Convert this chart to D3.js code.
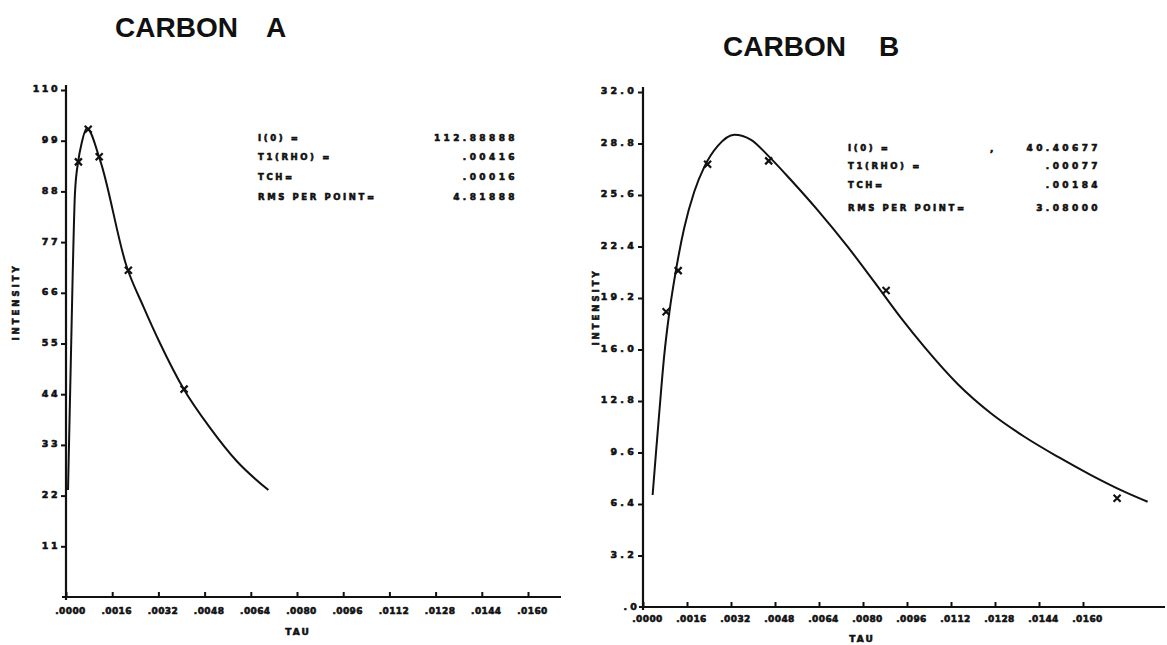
<!DOCTYPE html>
<html><head><meta charset="utf-8">
<script src="https://cdn.jsdelivr.net/npm/d3@7"></script>
<style>body{margin:0;background:#fff}svg{display:block}</style>
</head><body>
<svg id="chart" width="1167" height="645"></svg>
<script>
// ---------- data ----------
const tauTicks = [0, 0.0016, 0.0032, 0.0048, 0.0064, 0.0080, 0.0096, 0.0112, 0.0128, 0.0144, 0.0160];
const tauTickLabels = [".0000", ".0016", ".0032", ".0048", ".0064", ".0080", ".0096", ".0112", ".0128", ".0144", ".0160"];

const aYTicks = [11, 22, 33, 44, 55, 66, 77, 88, 99, 110];
const aYTickLabels = ["11", "22", "33", "44", "55", "66", "77", "88", "99", "110"];
const aCurveTau = [0.00007, 0.00023, 0.00031, 0.00043, 0.00054, 0.00072, 0.00118, 0.00210, 0.00268, 0.00326, 0.00406, 0.00499, 0.00591, 0.00701];
const aCurveI   = [23.2, 69.5, 87.6, 94.8, 98.4, 101.7, 94.8, 71.7, 63.0, 55.0, 45.3, 36.7, 29.5, 23.2];
const aPointTau = [0.00043, 0.00077, 0.00115, 0.00216, 0.00409];
const aPointI   = [94.4, 101.5, 95.5, 70.9, 45.1];
const aStatLabels = ["I(0) =", "T1(RHO) =", "TCH=", "RMS PER POINT="];
const aStatValues = ["112.88888", ".00416", ".00016", "4.81888"];

const bYTicks = [3.2, 6.4, 9.6, 12.8, 16.0, 19.2, 22.4, 25.6, 28.8, 32.0];
const bYTickLabels = ["3.2", "6.4", "9.6", "12.8", "16.0", "19.2", "22.4", "25.6", "28.8", "32.0"];
const bCurveTau = [0.00035, 0.00047, 0.00059, 0.00077, 0.00096, 0.00120, 0.00150, 0.00186, 0.00223, 0.00272, 0.00332, 0.00393, 0.00453, 0.00538, 0.00635, 0.00744, 0.00841, 0.00938, 0.01023, 0.01144, 0.01265, 0.01387, 0.01508, 0.01629, 0.01750, 0.01835];
const bCurveI   = [6.96, 9.55, 12.04, 15.60, 18.33, 20.94, 23.56, 25.79, 27.35, 28.65, 29.34, 29.03, 28.08, 26.53, 24.66, 22.39, 20.20, 17.96, 16.16, 13.86, 12.04, 10.58, 9.34, 8.20, 7.17, 6.54];
const bPointTau = [0.00084, 0.00128, 0.00235, 0.00457, 0.00884, 0.01724];
const bPointI   = [18.35, 20.90, 27.51, 27.72, 19.66, 6.76];
const bStatLabels = ["I(0) =", "T1(RHO) =", "TCH=", "RMS PER POINT="];
const bStatValues = ["40.40677", ".00077", ".00184", "3.08000"];

// ---------- drawing ----------
const svg = d3.select("#chart");
svg.append("rect").attr("width", 1167).attr("height", 645).attr("fill", "#fff");
const ink = "#111";
const smallFont = "'DejaVu Sans', sans-serif";

function heavy(sel, size, spacing) {
  return sel.attr("font-family", smallFont).attr("font-weight", "bold")
    .attr("font-size", size).attr("letter-spacing", spacing)
    .attr("fill", ink).attr("stroke", ink).attr("stroke-width", 0.6);
}

function panel(cfg) {
  const g = svg.append("g");
  const x = d3.scaleLinear().domain([0, 0.016]).range(cfg.xRange);
  const y = d3.scaleLinear().domain([0, cfg.yMax]).range(cfg.yRange);

  // title
  g.append("text").attr("x", cfg.titleX[0]).attr("y", cfg.titleY)
    .attr("font-family", "'Liberation Sans', Arial, sans-serif").attr("font-weight", "bold")
    .attr("font-size", 28).attr("fill", ink).text("CARBON");
  g.append("text").attr("x", cfg.titleX[1]).attr("y", cfg.titleY)
    .attr("font-family", "'Liberation Sans', Arial, sans-serif").attr("font-weight", "bold")
    .attr("font-size", 28).attr("fill", ink).text(cfg.letter);

  // y axis
  const yAxis = d3.axisLeft(y).tickValues(cfg.yTicks)
    .tickFormat((d, i) => cfg.yTickLabels[i]).tickSizeInner(5).tickSizeOuter(0).tickPadding(1);
  const ya = g.append("g").attr("transform", `translate(${x(0)},0)`).call(yAxis);
  ya.select(".domain").remove();
  ya.selectAll("line").attr("stroke", ink).attr("stroke-width", 2);
  heavy(ya.selectAll("text"), 9.5, cfg.yLabelSpacing).attr("dy", "0.2em");

  // x axis
  const xAxis = d3.axisBottom(x).tickValues(tauTicks)
    .tickFormat((d, i) => tauTickLabels[i]).tickSizeInner(-5).tickSizeOuter(0).tickPadding(cfg.xPad);
  const xa = g.append("g").attr("transform", `translate(0,${y(0)})`).call(xAxis);
  xa.select(".domain").remove();
  xa.selectAll("line").attr("stroke", ink).attr("stroke-width", 2);
  heavy(xa.selectAll("text"), 9, 0.4).attr("dx", 4);

  // axis lines (extended past last tick like the plotter output)
  g.append("line").attr("x1", x(0)).attr("x2", x(0))
    .attr("y1", y(0) + 3).attr("y2", y(cfg.yMax) - 5)
    .attr("stroke", ink).attr("stroke-width", 2.2);
  g.append("line").attr("x1", x(0) - 4).attr("x2", cfg.xAxisEnd)
    .attr("y1", y(0)).attr("y2", y(0))
    .attr("stroke", ink).attr("stroke-width", 2.2);

  // axis titles
  heavy(g.append("text").attr("transform", `translate(${cfg.yLabelX},${cfg.yLabelY}) rotate(-90)`)
    .attr("text-anchor", "middle"), 8.5, 3).text("INTENSITY");
  heavy(g.append("text").attr("x", cfg.tauX).attr("y", cfg.tauY)
    .attr("text-anchor", "middle"), 9, 2).text("TAU");

  // fitted curve
  const pts = cfg.curveTau.map((t, i) => [t, cfg.curveI[i]]);
  g.append("path").datum(pts)
    .attr("d", d3.line().x(d => x(d[0])).y(d => y(d[1])).curve(d3.curveMonotoneX))
    .attr("fill", "none").attr("stroke", ink).attr("stroke-width", 2);

  // measured points (x marks)
  const s = 3.5;
  cfg.pointTau.forEach((t, i) => {
    const px = x(t), py = y(cfg.pointI[i]);
    g.append("path").attr("d", `M${px - s},${py - s}L${px + s},${py + s}M${px - s},${py + s}L${px + s},${py - s}`)
      .attr("stroke", ink).attr("stroke-width", 2.2).attr("fill", "none");
  });

  // statistics block
  cfg.statLabels.forEach((lab, i) => {
    heavy(g.append("text").attr("x", cfg.statLabelX).attr("y", cfg.statY[i]), 8.5, 2.6).text(lab);
    heavy(g.append("text").attr("x", cfg.statValueX).attr("y", cfg.statY[i])
      .attr("text-anchor", "end"), 9, 3.4).text(cfg.statValues[i]);
  });
  return g;
}

panel({
  letter: "A", titleX: [115, 266], titleY: 37,
  xRange: [66, 528], yRange: [597, 90], yMax: 110, xAxisEnd: 561, xPad: 11,
  yTicks: aYTicks, yTickLabels: aYTickLabels, yLabelSpacing: 2.5,
  curveTau: aCurveTau, curveI: aCurveI, pointTau: aPointTau, pointI: aPointI,
  statLabels: aStatLabels, statValues: aStatValues,
  statLabelX: 258, statValueX: 518, statY: [141, 160, 180, 200],
  yLabelX: 19, yLabelY: 302, tauX: 298, tauY: 635
});

const pb = panel({
  letter: "B", titleX: [723, 879], titleY: 56,
  xRange: [643, 1083], yRange: [607, 92], yMax: 32, xAxisEnd: 1165, xPad: 9,
  yTicks: bYTicks, yTickLabels: bYTickLabels, yLabelSpacing: 3.2,
  curveTau: bCurveTau, curveI: bCurveI, pointTau: bPointTau, pointI: bPointI,
  statLabels: bStatLabels, statValues: bStatValues,
  statLabelX: 848, statValueX: 1101, statY: [151, 169, 188, 211],
  yLabelX: 599, yLabelY: 307, tauX: 862, tauY: 642
});
// ".0" label at the origin of panel B's y axis
heavy(pb.append("text").attr("x", 640).attr("y", 610).attr("text-anchor", "end"), 9.5, 3.2).text(".0");
// stray comma in the I(0) row of panel B
heavy(pb.append("text").attr("x", 990).attr("y", 152), 9, 0).text(",");
</script>
</body></html>
